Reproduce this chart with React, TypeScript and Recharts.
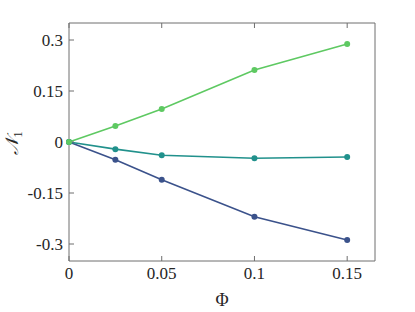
import { LineChart, Line, XAxis, YAxis } from "recharts";

const phi = [0, 0.025, 0.05, 0.1, 0.15];
const greenSeries = [0, 0.047, 0.097, 0.212, 0.288];
const tealSeries = [0, -0.021, -0.039, -0.048, -0.044];
const blueSeries = [0, -0.052, -0.111, -0.22, -0.288];

const xTicks = [0, 0.05, 0.1, 0.15];
const yTicks = [-0.3, -0.15, 0, 0.15, 0.3];

const data = phi.map((x, i) => ({
  phi: x,
  green: greenSeries[i],
  teal: tealSeries[i],
  blue: blueSeries[i],
}));

const FONT = "Liberation Serif";
const AXIS = "#6e6e6e";
const TEXT = "#262626";

const noTick = () => <g />;

function App() {
  return (
    <div style={{ position: "absolute", left: 0, top: 0, width: 415, height: 312, background: "#fff", fontFamily: FONT }}>
      <LineChart width={415} height={312} data={data} margin={{ top: 22, right: 39, left: 0, bottom: 0 }}>
        <XAxis
          dataKey="phi"
          type="number"
          domain={[0, 0.165]}
          ticks={xTicks}
          height={51}
          stroke={AXIS}
          tickSize={-5}
          tickMargin={11}
          tick={{ fill: TEXT, fontSize: 17, fontFamily: FONT }}
          label={{ value: "Φ", position: "insideBottom", offset: 6, fill: TEXT, fontSize: 18, fontFamily: FONT }}
        />
        <XAxis xAxisId="top" orientation="top" dataKey="phi" type="number" domain={[0, 0.165]} ticks={xTicks} height={1} stroke={AXIS} tickSize={-5} tick={noTick} />
        <YAxis
          type="number"
          domain={[-0.35, 0.35]}
          ticks={yTicks}
          width={69}
          stroke={AXIS}
          tickSize={-5}
          tickMargin={11}
          tick={{ fill: TEXT, fontSize: 17, fontFamily: FONT }}
          label={() => (
            <text x={18} y={143} transform="rotate(-90 18 143)" textAnchor="middle" fill={TEXT} fontFamily={FONT} fontSize={18}>
              <tspan fontStyle="italic">𝒩</tspan>
              <tspan fontSize={12} dy={4}>1</tspan>
            </text>
          )}
        />
        <YAxis yAxisId="right" orientation="right" type="number" domain={[-0.35, 0.35]} ticks={yTicks} width={1} stroke={AXIS} tickSize={-5} tick={noTick} />
        <Line dataKey="blue" stroke="#3b528b" strokeWidth={1.6} dot={{ r: 3, fill: "#3b528b", stroke: "#3b528b", strokeWidth: 0 }} isAnimationActive={false} />
        <Line dataKey="teal" stroke="#21918c" strokeWidth={1.6} dot={{ r: 3, fill: "#21918c", stroke: "#21918c", strokeWidth: 0 }} isAnimationActive={false} />
        <Line dataKey="green" stroke="#5ec962" strokeWidth={1.6} dot={{ r: 3, fill: "#5ec962", stroke: "#5ec962", strokeWidth: 0 }} isAnimationActive={false} />
      </LineChart>
    </div>
  );
}

export default App;
